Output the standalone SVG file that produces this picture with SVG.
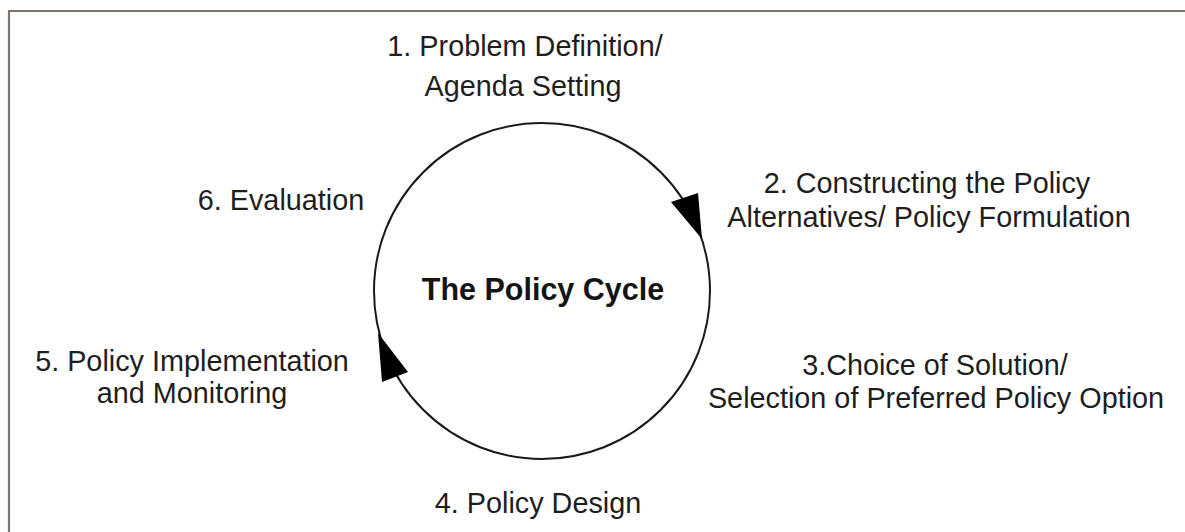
<svg xmlns="http://www.w3.org/2000/svg" width="1185" height="532" viewBox="0 0 1185 532">
<style>
.lbl{font-family:"Liberation Sans",Arial,sans-serif;font-size:28.8px;fill:#1e1e1e;text-anchor:middle}
.title{font-family:"Liberation Sans",Arial,sans-serif;font-size:30.5px;font-weight:bold;fill:#151515;text-anchor:middle}
.ring{fill:none;stroke:#1a1a1a;stroke-width:2}
.head{fill:#000;stroke:none}
.frame{fill:none;stroke:#7f756d;stroke-width:2.2}
</style>
<rect width="1185" height="532" fill="#fff"/>
<path class="frame" d="M9,532 V11 H1185"/>
<g id="connectors">
<circle class="ring" cx="542" cy="291" r="168"/>
<polygon class="head" points="671,202 698,193 702,239"/>
<polygon class="head" points="378,333 382,382 408,372"/>
</g>
<g id="center"><text class="title" x="543" y="300">The Policy Cycle</text></g>
<g id="step1"><text class="lbl" x="525" y="56">1. Problem Definition/</text><text class="lbl" x="523" y="96">Agenda Setting</text></g>
<g id="step2"><text class="lbl" x="927" y="193">2. Constructing the Policy</text><text class="lbl" x="929" y="227">Alternatives/ Policy Formulation</text></g>
<g id="step3"><text class="lbl" x="935" y="375">3.Choice of Solution/</text><text class="lbl" x="936" y="408">Selection of Preferred Policy Option</text></g>
<g id="step4"><text class="lbl" x="538" y="513">4. Policy Design</text></g>
<g id="step5"><text class="lbl" x="192" y="371">5. Policy Implementation</text><text class="lbl" x="192" y="403">and Monitoring</text></g>
<g id="step6"><text class="lbl" x="281" y="210">6. Evaluation</text></g>
</svg>
